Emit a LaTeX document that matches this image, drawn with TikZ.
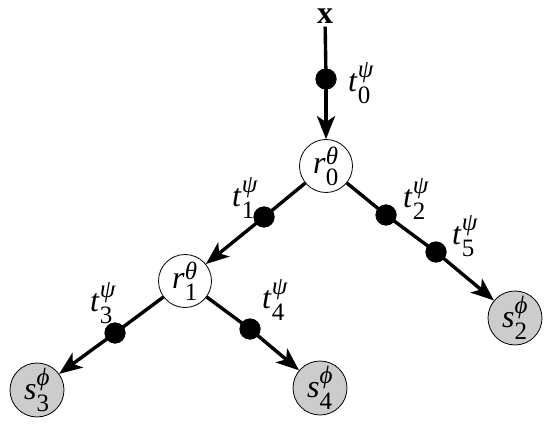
\documentclass[tikz,border=0pt]{standalone}
\usepackage{amsmath}
\usepackage{fontspec}
\setmainfont{Liberation Serif}
\usetikzlibrary{arrows.meta}
\DeclareMathSizes{32}{32}{25}{18}
\newcommand\lbl[3]{\textit{#1}\ensuremath{^{\text{\itshape #2}}_{\text{#3}}}}
\begin{document}
\begin{tikzpicture}[x=1pt,y=1pt,
  every node/.style={font=\fontsize{32}{34}\selectfont},
  rnode/.style={circle, draw, line width=0.8pt, fill=white, minimum size=53pt, inner sep=0pt},
  snode/.style={circle, draw, line width=0.8pt, fill=black!20, minimum size=54pt, inner sep=0pt},
  dotnode/.style={circle, fill=black, minimum size=21pt, inner sep=0pt},
  conn/.style={line width=3.4pt},
  arr/.style={line width=3.4pt, -{Stealth[length=23pt,width=18pt,inset=6pt]}},
  lab/.style={inner sep=0pt}]
\useasboundingbox (0,0) rectangle (556,426);
% main nodes
\node[inner sep=3pt] (x) at (325,410) {\textbf{x}};
\node[rnode] (r0) at (326,260) {\lbl{r}{θ}{0}};
\node[rnode] (r1) at (185,145) {\lbl{r}{θ}{1}};
\node[snode] (s2) at (515,108) {\lbl{s}{ϕ}{2}};
\node[snode] (s3) at (37,36) {\lbl{s}{ϕ}{3}};
\node[snode] (s4) at (320,38) {\lbl{s}{ϕ}{4}};
% dots
\node[dotnode] (d0) at (326,347) {};
\node[dotnode] (d1) at (264,209) {};
\node[dotnode] (d2) at (386,211) {};
\node[dotnode] (d5) at (436,174) {};
\node[dotnode] (d3) at (115,93) {};
\node[dotnode] (d4) at (250,97) {};
% connectors
\draw[conn] (x) -- (d0.center);
\draw[arr] (d0.center) -- (r0);
\draw[conn] (r0) -- (d1.center);
\draw[arr] (d1.center) -- (r1);
\draw[conn] (r0) -- (d2.center);
\draw[conn] (d2.center) -- (d5.center);
\draw[arr] (d5.center) -- (s2);
\draw[conn] (r1) -- (d3.center);
\draw[arr] (d3.center) -- (s3);
\draw[conn] (r1) -- (d4.center);
\draw[arr] (d4.center) -- (s4);
% redraw dots on top
\foreach \d in {d0,d1,d2,d5,d3,d4} \fill (\d) circle (10.5pt);
% labels
\node[lab] (l0) at (361,343) {\lbl{t}{ψ}{0}};
\node[lab] (l1) at (245,228) {\lbl{t}{ψ}{1}};
\node[lab] (l2) at (416,227) {\lbl{t}{ψ}{2}};
\node[lab] (l5) at (465,190) {\lbl{t}{ψ}{5}};
\node[lab] (l3) at (103,123) {\lbl{t}{ψ}{3}};
\node[lab] (l4) at (275,126) {\lbl{t}{ψ}{4}};
\end{tikzpicture}
\end{document}
